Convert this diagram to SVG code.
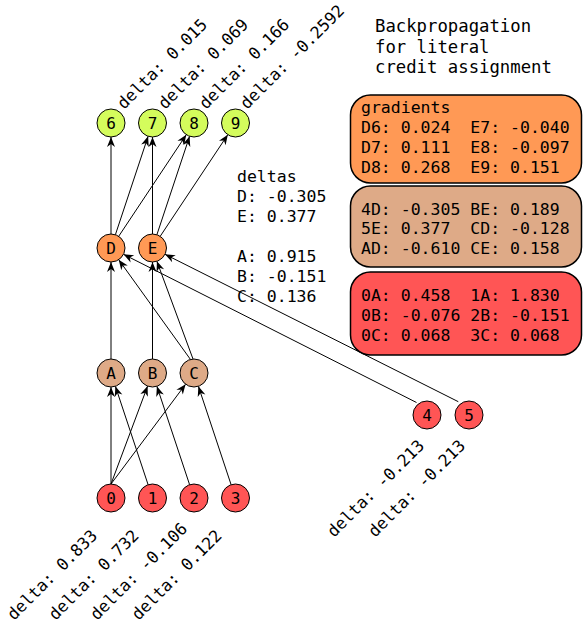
<svg xmlns="http://www.w3.org/2000/svg" width="583" height="623" viewBox="0 0 583 623">
<defs>
<style>
text{font-family:"DejaVu Sans Mono","Liberation Mono",monospace;fill:#000;white-space:pre}
.n{font-size:16px;text-anchor:middle}
.lbl{font-size:16.5px}
.box{font-size:16.5px}
.title{font-size:17.3px}
circle{stroke:#000;stroke-width:1}
.out{fill:#d4fc5c}
.hid{fill:#ff9955}
.mid{fill:#deaa87}
.in{fill:#ff5555}
.edge line{stroke:#000;stroke-width:1;marker-end:url(#ah)}
.bx{stroke:#000;stroke-width:1.5}
</style>
<marker id="ah" viewBox="-11 -5 12 10" refX="0" refY="0" markerWidth="12" markerHeight="10" markerUnits="userSpaceOnUse" orient="auto">
<path d="M0,0 L-10,-4 L-7,0 L-10,4 Z" fill="#000"/>
</marker>
</defs>
<rect width="583" height="623" fill="#fff"/>

<g id="edges" class="edge">
<line x1="111" y1="234" x2="111" y2="137"/>
<line x1="115.4" y1="234.7" x2="148.1" y2="136.3"/>
<line x1="118.7" y1="236.3" x2="186.3" y2="134.7"/>
<line x1="152.5" y1="234" x2="152.5" y2="137"/>
<line x1="156.9" y1="234.7" x2="189.6" y2="136.3"/>
<line x1="160.2" y1="236.3" x2="227.8" y2="134.7"/>
<line x1="111" y1="359" x2="111" y2="262"/>
<line x1="190.5" y1="359.5" x2="118.7" y2="259.7"/>
<line x1="193" y1="359" x2="156.9" y2="261.3"/>
<line x1="152.5" y1="359" x2="152.5" y2="262"/>
<line x1="416.5" y1="402.5" x2="123.5" y2="254.3"/>
<line x1="458.3" y1="401.7" x2="165" y2="254.3"/>
<line x1="111" y1="484" x2="111" y2="387"/>
<line x1="111" y1="484" x2="147.6" y2="386.1"/>
<line x1="111" y1="484" x2="185.6" y2="384.2"/>
<line x1="148.1" y1="484.7" x2="115.4" y2="386.3"/>
<line x1="189.6" y1="484.7" x2="156.9" y2="386.3"/>
<line x1="231.1" y1="484.7" x2="198.4" y2="386.3"/>
</g>

<g id="node6"><circle class="out" cx="111" cy="123" r="14"/><text class="n" x="111" y="129">6</text><text class="lbl" transform="translate(124,110) rotate(-45)">delta: 0.015</text></g>
<g id="node7"><circle class="out" cx="152.5" cy="123" r="14"/><text class="n" x="152.5" y="129">7</text><text class="lbl" transform="translate(165,110) rotate(-45)">delta: 0.069</text></g>
<g id="node8"><circle class="out" cx="194" cy="123" r="14"/><text class="n" x="194" y="129">8</text><text class="lbl" transform="translate(206,110) rotate(-45)">delta: 0.166</text></g>
<g id="node9"><circle class="out" cx="235.5" cy="123" r="14"/><text class="n" x="235.5" y="129">9</text><text class="lbl" transform="translate(247,110) rotate(-45)">delta: -0.2592</text></g>

<g id="nodeD"><circle class="hid" cx="111" cy="248" r="14"/><text class="n" x="111" y="254">D</text></g>
<g id="nodeE"><circle class="hid" cx="152.5" cy="248" r="14"/><text class="n" x="152.5" y="254">E</text></g>

<g id="nodeA"><circle class="mid" cx="111" cy="373" r="14"/><text class="n" x="111" y="379">A</text></g>
<g id="nodeB"><circle class="mid" cx="152.5" cy="373" r="14"/><text class="n" x="152.5" y="379">B</text></g>
<g id="nodeC"><circle class="mid" cx="194" cy="373" r="14"/><text class="n" x="194" y="379">C</text></g>

<g id="node0"><circle class="in" cx="111" cy="498" r="14"/><text class="n" x="111" y="504">0</text><text class="lbl" transform="translate(14,621) rotate(-45)">delta: 0.833</text></g>
<g id="node1"><circle class="in" cx="152.5" cy="498" r="14"/><text class="n" x="152.5" y="504">1</text><text class="lbl" transform="translate(55.5,621) rotate(-45)">delta: 0.732</text></g>
<g id="node2"><circle class="in" cx="194" cy="498" r="14"/><text class="n" x="194" y="504">2</text><text class="lbl" transform="translate(97,621) rotate(-45)">delta: -0.106</text></g>
<g id="node3"><circle class="in" cx="235.5" cy="498" r="14"/><text class="n" x="235.5" y="504">3</text><text class="lbl" transform="translate(138.5,621) rotate(-45)">delta: 0.122</text></g>

<g id="node4"><circle class="in" cx="427" cy="415" r="14"/><text class="n" x="427" y="421">4</text><text class="lbl" transform="translate(334,538) rotate(-45)">delta: -0.213</text></g>
<g id="node5"><circle class="in" cx="469" cy="415" r="14"/><text class="n" x="469" y="421">5</text><text class="lbl" transform="translate(375,538) rotate(-45)">delta: -0.213</text></g>

<g id="deltas">
<text class="box" x="237" y="182">deltas</text>
<text class="box" x="237" y="202">D: -0.305</text>
<text class="box" x="237" y="222">E: 0.377</text>
<text class="box" x="237" y="262">A: 0.915</text>
<text class="box" x="237" y="282">B: -0.151</text>
<text class="box" x="237" y="302">C: 0.136</text>
</g>

<g id="title">
<text class="title" x="375" y="32">Backpropagation</text>
<text class="title" x="375" y="53">for literal</text>
<text class="title" x="375" y="73">credit assignment</text>
</g>

<g id="gradients1">
<rect class="bx hid" x="350.5" y="95" width="231" height="88" rx="20"/>
<text class="box" x="361" y="113">gradients</text>
<text class="box" x="361" y="133">D6: 0.024  E7: -0.040</text>
<text class="box" x="361" y="153">D7: 0.111  E8: -0.097</text>
<text class="box" x="361" y="173">D8: 0.268  E9: 0.151</text>
</g>
<g id="gradients2">
<rect class="bx mid" x="350.5" y="186" width="231" height="81" rx="20"/>
<text class="box" x="361" y="215">4D: -0.305 BE: 0.189</text>
<text class="box" x="361" y="234">5E: 0.377  CD: -0.128</text>
<text class="box" x="361" y="254">AD: -0.610 CE: 0.158</text>
</g>
<g id="gradients3">
<rect class="bx in" x="350.5" y="272" width="231" height="83" rx="20"/>
<text class="box" x="361" y="301">0A: 0.458  1A: 1.830</text>
<text class="box" x="361" y="321">0B: -0.076 2B: -0.151</text>
<text class="box" x="361" y="341">0C: 0.068  3C: 0.068</text>
</g>
</svg>
